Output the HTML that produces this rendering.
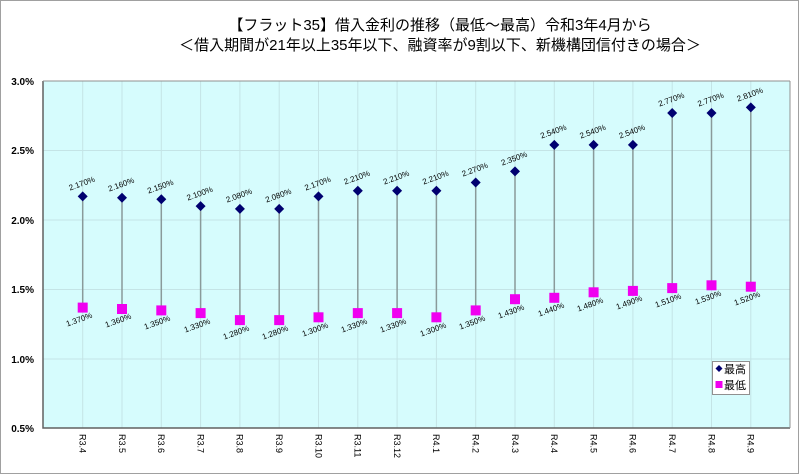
<!DOCTYPE html>
<html><head><meta charset="utf-8"><style>
html,body{margin:0;padding:0;background:#fff}
svg{display:block}
text{font-family:"Liberation Sans","Noto Sans CJK JP",sans-serif}
.v{font-size:8px;fill:#000}
.ax{font-size:10px;font-weight:bold;fill:#000}
.xl{font-size:9px;fill:#000}
</style></head><body>
<svg width="800" height="475" viewBox="0 0 800 475" xmlns="http://www.w3.org/2000/svg">
<rect x="0.5" y="0.5" width="798" height="473" fill="#fff" stroke="#a0a0a0"/>
<text x="440" y="30" text-anchor="middle" font-size="15">【フラット35】借入金利の推移（最低～最高）令和3年4月から</text>
<text x="440" y="50" text-anchor="middle" font-size="15">＜借入期間が21年以上35年以下、融資率が9割以下、新機構団信付きの場合＞</text>
<rect x="43" y="81" width="747" height="347" fill="#d6fcfd"/>
<g stroke="#c4e4e6" stroke-width="1">
<line x1="43" y1="150.5" x2="790" y2="150.5"/><line x1="43" y1="220" x2="790" y2="220"/><line x1="43" y1="289.5" x2="790" y2="289.5"/><line x1="43" y1="359" x2="790" y2="359"/>
<line x1="82.7" y1="81" x2="82.7" y2="428"/><line x1="122" y1="81" x2="122" y2="428"/><line x1="161.3" y1="81" x2="161.3" y2="428"/><line x1="200.6" y1="81" x2="200.6" y2="428"/><line x1="239.9" y1="81" x2="239.9" y2="428"/><line x1="279.2" y1="81" x2="279.2" y2="428"/><line x1="318.5" y1="81" x2="318.5" y2="428"/><line x1="357.8" y1="81" x2="357.8" y2="428"/><line x1="397.1" y1="81" x2="397.1" y2="428"/><line x1="436.4" y1="81" x2="436.4" y2="428"/><line x1="475.7" y1="81" x2="475.7" y2="428"/><line x1="515" y1="81" x2="515" y2="428"/><line x1="554.3" y1="81" x2="554.3" y2="428"/><line x1="593.6" y1="81" x2="593.6" y2="428"/><line x1="632.9" y1="81" x2="632.9" y2="428"/><line x1="672.2" y1="81" x2="672.2" y2="428"/><line x1="711.5" y1="81" x2="711.5" y2="428"/><line x1="750.8" y1="81" x2="750.8" y2="428"/>
</g>
<path d="M43,81V428H790" fill="none" stroke="#606060" stroke-width="1.5"/>
<line x1="43" y1="81" x2="790" y2="81" stroke="#909090"/>
<line x1="790" y1="81" x2="790" y2="428" stroke="#909090"/>
<g class="ax" text-anchor="end">
<text x="34" y="85">3.0%</text><text x="34" y="154">2.5%</text><text x="34" y="224">2.0%</text><text x="34" y="293">1.5%</text><text x="34" y="363">1.0%</text><text x="34" y="432">0.5%</text>
</g>
<g stroke="#8a9a9a" stroke-width="1.5">
<line x1="82.7" y1="196.4" x2="82.7" y2="307.6"/><line x1="122" y1="197.8" x2="122" y2="309"/><line x1="161.3" y1="199.2" x2="161.3" y2="310.4"/><line x1="200.6" y1="206.1" x2="200.6" y2="313.1"/><line x1="239.9" y1="208.9" x2="239.9" y2="320.1"/><line x1="279.2" y1="208.9" x2="279.2" y2="320.1"/><line x1="318.5" y1="196.4" x2="318.5" y2="317.3"/><line x1="357.8" y1="190.8" x2="357.8" y2="313.1"/><line x1="397.1" y1="190.8" x2="397.1" y2="313.1"/><line x1="436.4" y1="190.8" x2="436.4" y2="317.3"/><line x1="475.7" y1="182.5" x2="475.7" y2="310.4"/><line x1="515" y1="171.4" x2="515" y2="299.2"/><line x1="554.3" y1="144.9" x2="554.3" y2="297.8"/><line x1="593.6" y1="144.9" x2="593.6" y2="292.3"/><line x1="632.9" y1="144.9" x2="632.9" y2="290.9"/><line x1="672.2" y1="113" x2="672.2" y2="288.1"/><line x1="711.5" y1="113" x2="711.5" y2="285.3"/><line x1="750.8" y1="107.4" x2="750.8" y2="286.7"/>
</g>
<g fill="#f000f0">
<rect x="77.7" y="302.6" width="10" height="10"/><rect x="117" y="304" width="10" height="10"/><rect x="156.3" y="305.4" width="10" height="10"/><rect x="195.6" y="308.1" width="10" height="10"/><rect x="234.9" y="315.1" width="10" height="10"/><rect x="274.2" y="315.1" width="10" height="10"/><rect x="313.5" y="312.3" width="10" height="10"/><rect x="352.8" y="308.1" width="10" height="10"/><rect x="392.1" y="308.1" width="10" height="10"/><rect x="431.4" y="312.3" width="10" height="10"/><rect x="470.7" y="305.4" width="10" height="10"/><rect x="510" y="294.2" width="10" height="10"/><rect x="549.3" y="292.8" width="10" height="10"/><rect x="588.6" y="287.3" width="10" height="10"/><rect x="627.9" y="285.9" width="10" height="10"/><rect x="667.2" y="283.1" width="10" height="10"/><rect x="706.5" y="280.3" width="10" height="10"/><rect x="745.8" y="281.7" width="10" height="10"/>
</g>
<g fill="#000070">
<path d="M82.7,191.4l5,5l-5,5l-5,-5z"/><path d="M122,192.8l5,5l-5,5l-5,-5z"/><path d="M161.3,194.2l5,5l-5,5l-5,-5z"/><path d="M200.6,201.1l5,5l-5,5l-5,-5z"/><path d="M239.9,203.9l5,5l-5,5l-5,-5z"/><path d="M279.2,203.9l5,5l-5,5l-5,-5z"/><path d="M318.5,191.4l5,5l-5,5l-5,-5z"/><path d="M357.8,185.8l5,5l-5,5l-5,-5z"/><path d="M397.1,185.8l5,5l-5,5l-5,-5z"/><path d="M436.4,185.8l5,5l-5,5l-5,-5z"/><path d="M475.7,177.5l5,5l-5,5l-5,-5z"/><path d="M515,166.4l5,5l-5,5l-5,-5z"/><path d="M554.3,139.9l5,5l-5,5l-5,-5z"/><path d="M593.6,139.9l5,5l-5,5l-5,-5z"/><path d="M632.9,139.9l5,5l-5,5l-5,-5z"/><path d="M672.2,108l5,5l-5,5l-5,-5z"/><path d="M711.5,108l5,5l-5,5l-5,-5z"/><path d="M750.8,102.4l5,5l-5,5l-5,-5z"/>
</g>
<g class="v" text-anchor="middle">
<text transform="translate(82.7,186) rotate(-20)">2.170%</text><text transform="translate(122,187) rotate(-20)">2.160%</text><text transform="translate(161.3,189) rotate(-20)">2.150%</text><text transform="translate(200.6,196) rotate(-20)">2.100%</text><text transform="translate(239.9,198) rotate(-20)">2.080%</text><text transform="translate(279.2,198) rotate(-20)">2.080%</text><text transform="translate(318.5,186) rotate(-20)">2.170%</text><text transform="translate(357.8,180) rotate(-20)">2.210%</text><text transform="translate(397.1,180) rotate(-20)">2.210%</text><text transform="translate(436.4,180) rotate(-20)">2.210%</text><text transform="translate(475.7,172) rotate(-20)">2.270%</text><text transform="translate(515,161) rotate(-20)">2.350%</text><text transform="translate(554.3,134) rotate(-20)">2.540%</text><text transform="translate(593.6,134) rotate(-20)">2.540%</text><text transform="translate(632.9,134) rotate(-20)">2.540%</text><text transform="translate(672.2,102) rotate(-20)">2.770%</text><text transform="translate(711.5,102) rotate(-20)">2.770%</text><text transform="translate(750.8,97) rotate(-20)">2.810%</text>
<text transform="translate(80,322) rotate(-20)">1.370%</text><text transform="translate(119,323) rotate(-20)">1.360%</text><text transform="translate(158,325) rotate(-20)">1.350%</text><text transform="translate(198,328) rotate(-20)">1.330%</text><text transform="translate(237,335) rotate(-20)">1.280%</text><text transform="translate(276,335) rotate(-20)">1.280%</text><text transform="translate(316,332) rotate(-20)">1.300%</text><text transform="translate(355,328) rotate(-20)">1.330%</text><text transform="translate(394,328) rotate(-20)">1.330%</text><text transform="translate(434,332) rotate(-20)">1.300%</text><text transform="translate(473,325) rotate(-20)">1.350%</text><text transform="translate(512,314) rotate(-20)">1.430%</text><text transform="translate(552,312) rotate(-20)">1.440%</text><text transform="translate(591,307) rotate(-20)">1.480%</text><text transform="translate(630,305) rotate(-20)">1.490%</text><text transform="translate(669,303) rotate(-20)">1.510%</text><text transform="translate(709,300) rotate(-20)">1.530%</text><text transform="translate(748,301) rotate(-20)">1.520%</text>
</g>
<g class="xl">
<text transform="translate(79.5,434) rotate(90)">R3.4</text><text transform="translate(118.8,434) rotate(90)">R3.5</text><text transform="translate(158.1,434) rotate(90)">R3.6</text><text transform="translate(197.4,434) rotate(90)">R3.7</text><text transform="translate(236.7,434) rotate(90)">R3.8</text><text transform="translate(276,434) rotate(90)">R3.9</text><text transform="translate(315.3,434) rotate(90)">R3.10</text><text transform="translate(354.6,434) rotate(90)">R3.11</text><text transform="translate(393.9,434) rotate(90)">R3.12</text><text transform="translate(433.2,434) rotate(90)">R4.1</text><text transform="translate(472.5,434) rotate(90)">R4.2</text><text transform="translate(511.8,434) rotate(90)">R4.3</text><text transform="translate(551.1,434) rotate(90)">R4.4</text><text transform="translate(590.4,434) rotate(90)">R4.5</text><text transform="translate(629.7,434) rotate(90)">R4.6</text><text transform="translate(669,434) rotate(90)">R4.7</text><text transform="translate(708.3,434) rotate(90)">R4.8</text><text transform="translate(747.6,434) rotate(90)">R4.9</text>
</g>
<rect x="712.5" y="361.5" width="37" height="33" fill="#fff" stroke="#909090"/>
<path d="M719,365l3.5,3.5l-3.5,3.5l-3.5,-3.5z" fill="#000070"/>
<rect x="715.5" y="381" width="7" height="7" fill="#f000f0"/>
<text x="724" y="373" font-size="11">最高</text>
<text x="724" y="389" font-size="11">最低</text>
</svg>
</body></html>
